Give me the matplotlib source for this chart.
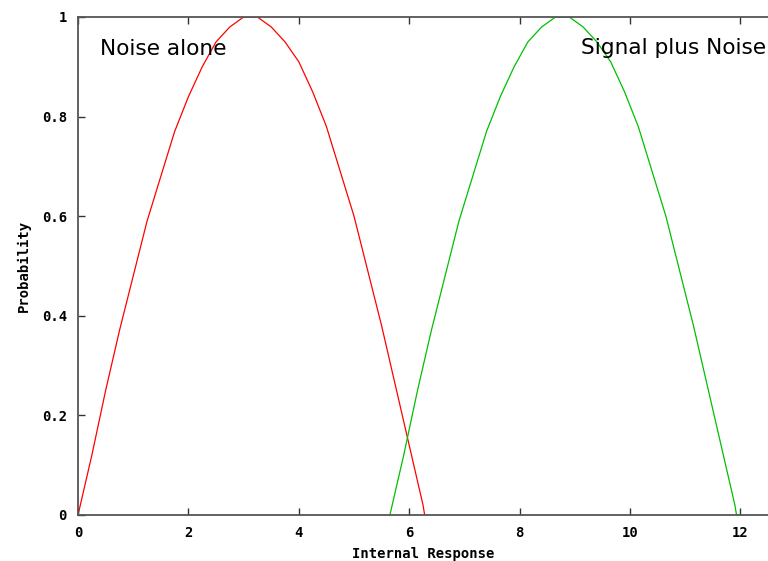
import matplotlib.pyplot as plt

# values
noise_x = [0, 0.25, 0.5, 0.75, 1.0, 1.25, 1.5, 1.75, 2.0, 2.25, 2.5, 2.75, 3.0,
           3.25, 3.5, 3.75, 4.0, 4.25, 4.5, 4.75, 5.0, 5.25, 5.5, 5.75, 6.0,
           6.25, 6.28]
noise_y = [0, 0.12, 0.25, 0.37, 0.48, 0.59, 0.68, 0.77, 0.84, 0.90, 0.95, 0.98,
           1.0, 1.0, 0.98, 0.95, 0.91, 0.85, 0.78, 0.69, 0.60, 0.49, 0.38, 0.26,
           0.14, 0.02, 0]

signal_x = [5.65, 5.9, 6.15, 6.4, 6.65, 6.9, 7.15, 7.4, 7.65, 7.9, 8.15, 8.4,
            8.65, 8.9, 9.15, 9.4, 9.65, 9.9, 10.15, 10.4, 10.65, 10.9, 11.15,
            11.4, 11.65, 11.9, 11.93]
signal_y = [0, 0.12, 0.25, 0.37, 0.48, 0.59, 0.68, 0.77, 0.84, 0.90, 0.95, 0.98,
            1.0, 1.0, 0.98, 0.95, 0.91, 0.85, 0.78, 0.69, 0.60, 0.49, 0.38, 0.26,
            0.14, 0.02, 0]

x_ticks = [0, 2, 4, 6, 8, 10, 12]
y_ticks = [0, 0.2, 0.4, 0.6, 0.8, 1]
y_labels = ["0", "0.2", "0.4", "0.6", "0.8", "1"]

mono = {"family": "DejaVu Sans Mono", "weight": "bold", "size": 10}

fig = plt.figure(figsize=(7.68, 5.61), dpi=100)
ax = fig.add_axes([0.1016, 0.082, 0.8984, 0.8877])

ax.plot(noise_x, noise_y, color="#ff0000", linewidth=0.9)
ax.plot(signal_x, signal_y, color="#00c000", linewidth=0.9)

ax.set_xlim(0, 12.5)
ax.set_ylim(0, 1)
ax.set_xticks(x_ticks)
ax.set_xticklabels([str(t) for t in x_ticks], fontdict=mono)
ax.set_yticks(y_ticks)
ax.set_yticklabels(y_labels, fontdict=mono)
ax.tick_params(direction="in", length=5, width=1, color="#333333",
               top=True, pad=8)

for side in ["left", "bottom", "top"]:
    ax.spines[side].set_color("#555555")
    ax.spines[side].set_linewidth(1.3)
ax.spines["right"].set_visible(False)

ax.set_xlabel("Internal Response", fontdict=mono, labelpad=5)
ax.set_ylabel("Probability", fontdict=mono, labelpad=8)

ax.text(0.4, 0.935, "Noise alone", fontsize=15.6, va="center", ha="left")
ax.text(9.12, 0.937, "Signal plus Noise", fontsize=15.6, va="center", ha="left")

fig.savefig("out.png", dpi=100)
